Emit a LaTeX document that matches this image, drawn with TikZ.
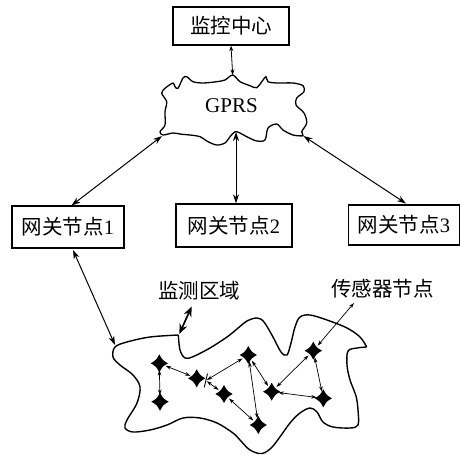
\documentclass[tikz,border=0pt]{standalone}
\usepackage{fontspec}
\setmainfont{Liberation Serif}
\newfontfamily\cjk{Noto Sans CJK SC}
\usetikzlibrary{arrows.meta}
\begin{document}
\begin{tikzpicture}[x=1pt,y=-1pt,
  box/.style={draw, line width=1.4, inner sep=0, font=\fontsize{20.5}{24}\selectfont},
  lbl/.style={inner sep=0, font=\fontsize{20.5}{24}\selectfont},
  bigarrow/.style={line width=1, {Stealth[length=9,width=6]}-{Stealth[length=9,width=6]}},
  smallarrow/.style={line width=0.8, {Stealth[length=5.5,width=4]}-{Stealth[length=5.5,width=4]}},
  thickarrow/.style={line width=1.7, {Stealth[length=10,width=8]}-{Stealth[length=10,width=8]}},
  sedge/.style={line width=0.7, {Stealth[length=5.5,width=3.6]}-{Stealth[length=5.5,width=3.6]}},
  sn/.style={circle, inner sep=0, minimum size=13},
  sensor/.pic={\fill (0,-9) .. controls (3.2,-3.2) .. (8.6,0) .. controls (3.2,3.2) .. (0,9) .. controls (-3.2,3.2) .. (-8.6,0) .. controls (-3.2,-3.2) .. (0,-9) -- cycle;}
]
\useasboundingbox (0,0) rectangle (461,455);

% boxes
\node[box, minimum width=116, minimum height=38] (mc) at (231,26) {\cjk 监控中心};
\node[box, minimum width=112, minimum height=42] (g1) at (68,227) {{\cjk 网关节点}1};
\node[box, minimum width=116, minimum height=43] (g2) at (234,225.5) {{\cjk 网关节点}2};
\node[box, minimum width=111, minimum height=40] (g3) at (404,225) {{\cjk 网关节点}3};

% GPRS cloud
\draw[line width=1.3] plot[smooth cycle, tension=0.5] coordinates {
 (232.7,75) (240,81.7) (250,85.7) (256.7,87.7) (263,80) (266,76.7) (268,81.7)
 (276.7,83) (293,83) (303,85.7) (304,91.7) (296.7,98) (296,105) (304,113)
 (306.7,123) (301.7,131.7) (303,135.7) (293,135) (283,130) (276.7,124)
 (268,128) (265,140) (256.7,141) (246.7,136.7) (240,133) (235,131.7)
 (230,136.7) (225,143) (216.7,145) (208,141.7) (200,136.7) (190,135)
 (181.7,134.3) (173,133) (163,135) (160,131.7) (165,125) (165,111.7)
 (166.7,101.7) (161.7,93.3) (165,88.3) (173,83) (175,86.7) (178,88.3)
 (183,78) (186.7,76.7) (193,81.7) (203,83) (216.7,81.7) (225,80)};
\node[lbl, font=\fontsize{21}{24}\selectfont] (gprs) at (231.5,106) {GPRS};

\coordinate (ct) at (232.7,75);
\coordinate (cbl) at (162,136);
\coordinate (cb) at (236,132);
\coordinate (cbr) at (303.5,136);

\draw[smallarrow] (mc.south) -- (ct);
\draw[bigarrow] (cbl) -- (71.5,205.5);
\draw[bigarrow] (cb) -- (g2.north -| cb);
\draw[bigarrow] (cbr) -- (406,203.5);

% monitoring region
\draw[line width=1.4] plot[smooth, tension=0.55] coordinates {
 (178.3,335) (180,350) (185,358) (193,356.7) (210,348) (227,337) (237,329)
 (247,321) (257,318) (264,322) (273,337) (281,352) (287,355) (291,343)
 (295,327) (300,317) (310,315) (327,320) (347,328) (360,337) (366.7,347)};
\draw[line width=1.4] plot[smooth, tension=0.55] coordinates {
 (366.7,347) (357,348) (348,351) (347,365) (350,380) (356,396) (358,410)
 (358,425) (350,428) (333,427) (323,422) (317,412) (310,408) (300,413)
 (290,423) (273,446) (262,453.5) (250,450) (240,440) (233,433) (217,423)
 (200,418) (183,418) (167,425) (150,430) (133,432) (125,428) (127,420)
 (137,403) (140,387) (133,375) (120,365) (113,357) (115,347) (127,342)
 (150,337) (178.3,335)};

\coordinate (b1) at (73,250);
\coordinate (bl) at (115,345);
\draw[bigarrow] (b1) -- (bl);

% labels
\node[lbl] (mq) at (199,291) {\cjk 监测区域};
\node[lbl] (cg) at (382.5,289) {\cjk 传感器节点};
\coordinate (mqa) at (191.7,306.5);
\coordinate (notch) at (179.3,334);
\draw[thickarrow] (mqa) -- (notch);

% sensor nodes
\node[sn] (A) at (159.3,363.3) {};
\node[sn] (B) at (160,401.7) {};
\node[sn] (C) at (196.7,378.3) {};
\node[sn] (D) at (224,394) {};
\node[sn] (E) at (248.3,355) {};
\node[sn] (F) at (258.3,425) {};
\node[sn] (G) at (271.7,391.7) {};
\node[sn] (H) at (313.3,350.7) {};
\node[sn] (I) at (323.3,398.3) {};
\foreach \n in {A,B,C,D,E,F,G,H,I} \pic at (\n) {sensor};

\coordinate (T) at (206,380.5);
\coordinate (cga) at (354,303);
\draw[line width=0.9] (207.5,373.5) -- (204.3,387.3);

\draw[sedge] (A) -- (B);
\draw[sedge] (A) -- (C);
\draw[sedge, shorten <=1] (T) -- (E);
\draw[sedge, shorten <=1] (T) -- (D);
\draw[sedge] (D) -- (F);
\draw[sedge] (E) -- (F);
\draw[sedge] (E) -- (G);
\draw[sedge] (G) -- (H);
\draw[sedge] (G) -- (I);
\draw[sedge] (H) -- (I);
\draw[sedge] (cga) -- (H);
\end{tikzpicture}
\end{document}
